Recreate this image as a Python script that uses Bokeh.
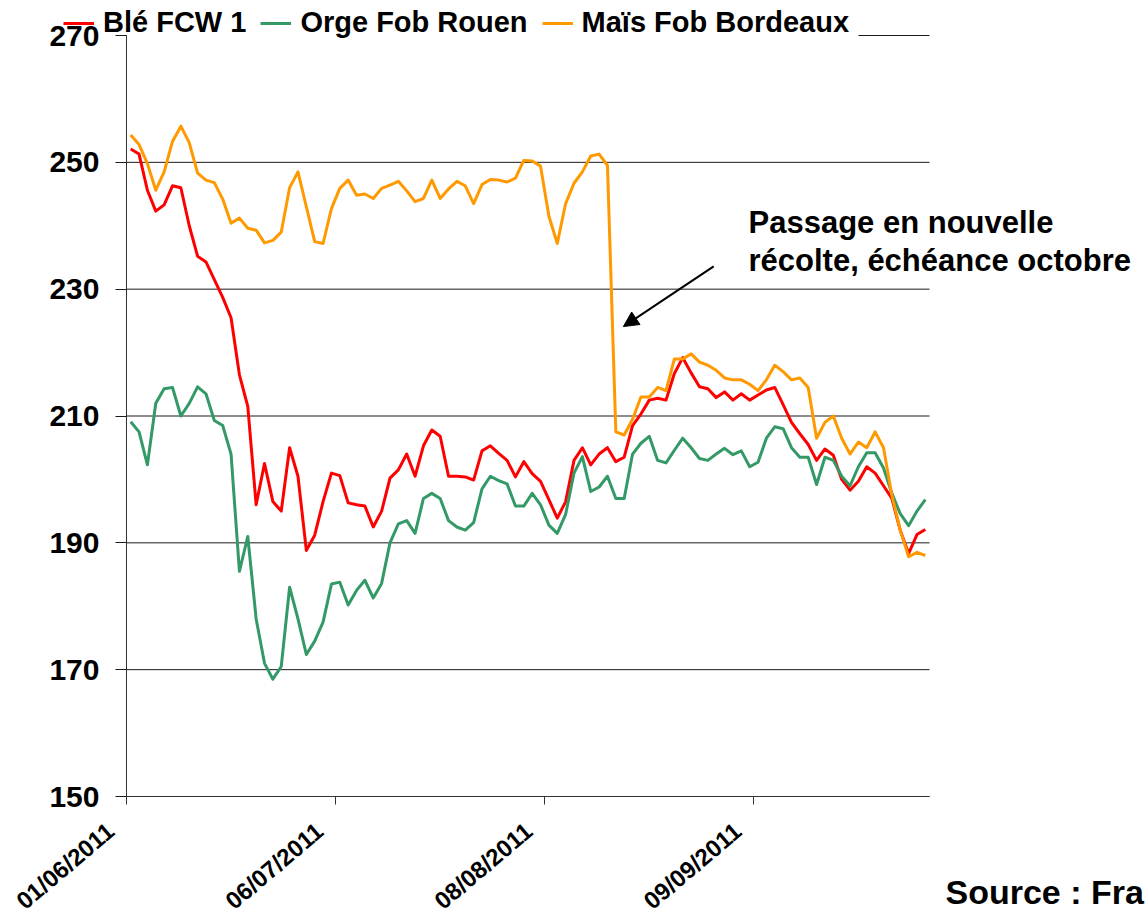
from bokeh.plotting import figure
from bokeh.models import (FixedTicker, Legend, LegendItem, Label, Arrow, NormalHead,
                          Range1d, ColumnDataSource, LinearAxis, BoxAnnotation)
from bokeh.embed import file_html
from bokeh.resources import INLINE

# ---- data ----
ble = [252.1, 251.3, 245.6, 242.3, 243.3, 246.3, 246.0, 240.0, 235.2, 234.3,
       231.5, 228.7, 225.5, 216.5, 211.5, 196.0, 202.5, 196.5, 195.0, 205.0,
       200.5, 188.8, 191.2, 196.5, 201.0, 200.6, 196.3, 196.0, 195.8, 192.5,
       195.0, 200.2, 201.5, 204.0, 200.5, 205.3, 207.8, 206.8, 200.5, 200.5,
       200.4, 199.9, 204.5, 205.3, 204.1, 203.0, 200.4, 202.8, 200.9, 199.7,
       196.8, 193.9, 196.5, 203.0, 205.0, 202.3, 204.0, 205.0, 202.8, 203.5,
       208.5, 210.3, 212.5, 212.8, 212.5, 216.7, 219.2, 216.8, 214.6, 214.3,
       212.9, 213.8, 212.5, 213.5, 212.5, 213.3, 214.1, 214.5, 211.8, 209.0,
       207.2, 205.5, 203.0, 204.8, 203.8, 200.0, 198.3, 199.7, 202.0, 201.0,
       199.0, 197.0, 192.0, 188.3, 191.3, 192.1]

orge = [209.1, 207.5, 202.3, 212.0, 214.3, 214.5, 210.0, 212.0, 214.6, 213.5,
        209.3, 208.5, 204.0, 185.5, 191.0, 178.0, 171.0, 168.5, 170.5, 183.0,
        178.0, 172.4, 174.5, 177.5, 183.5, 183.8, 180.2, 182.5, 184.1, 181.3,
        183.6, 190.0, 193.0, 193.5, 191.5, 197.0, 197.8, 197.0, 193.5, 192.5,
        192.0, 193.2, 198.5, 200.5, 199.8, 199.3, 195.8, 195.8, 197.8, 196.0,
        192.8, 191.5, 194.5, 201.0, 203.6, 198.1, 198.8, 200.5, 197.0, 197.0,
        204.0, 205.7, 206.8, 203.0, 202.6, 204.6, 206.5, 205.0, 203.3, 203.0,
        204.0, 204.9, 203.9, 204.5, 202.0, 202.7, 206.5, 208.3, 208.0, 205.0,
        203.5, 203.5, 199.2, 203.5, 203.0, 200.5, 199.0, 202.0, 204.2, 204.2,
        201.8, 197.8, 194.6, 192.7, 195.0, 196.8]

mais = [254.3, 252.8, 249.8, 245.6, 248.5, 253.3, 255.7, 253.1, 248.3, 247.2,
        246.8, 244.2, 240.4, 241.2, 239.6, 239.3, 237.3, 237.7, 239.0, 246.0,
        248.5, 243.0, 237.5, 237.2, 242.7, 245.9, 247.2, 244.8, 245.0, 244.3,
        245.9, 246.4, 247.0, 245.5, 243.8, 244.3, 247.2, 244.3, 245.8, 247.0,
        246.3, 243.5, 246.5, 247.3, 247.2, 246.9, 247.5, 250.3, 250.2, 249.4,
        241.5, 237.2, 243.5, 246.7, 248.5, 251.0, 251.3, 249.5, 207.5, 207.0,
        209.5, 213.0, 213.0, 214.5, 214.0, 219.0, 219.0, 219.8, 218.5, 218.0,
        217.2, 216.0, 215.7, 215.7, 215.0, 214.0, 215.7, 218.0, 217.0, 215.7,
        216.0, 214.5, 206.5, 209.0, 210.0, 206.5, 204.0, 205.9, 205.0, 207.5,
        205.0, 197.5, 192.0, 187.8, 188.5, 188.0]

series_names = ["Blé FCW 1", "Orge Fob Rouen", "Maïs Fob Bordeaux"]
series_colors = ["#FF0000", "#339966", "#FF9900"]

date_ticks = [0, 25, 50, 75]
date_labels = ["01/06/2011", "06/07/2011", "08/08/2011", "09/09/2011"]
y_ticks = [150, 170, 190, 210, 230, 250, 270]

FONT = "Liberation Sans"

# ---- layout (pixels) ----
W, H = 1147, 917
AX_L, AX_R, AX_T, AX_B = 126, 929, 35, 796
n = len(ble)
y_lo, y_hi = y_ticks[0], y_ticks[-1]
sx = (AX_R - AX_L) / n
sy = (AX_B - AX_T) / (y_hi - y_lo)
x_range = Range1d(-AX_L / sx, (W - AX_L) / sx)
y_range = Range1d(y_lo - (H - AX_B) / sy, y_hi + AX_T / sy)


def px_to_y(py):
    return y_hi - (py - AX_T) / sy


def px_to_x(px):
    return (px - AX_L) / sx


src = ColumnDataSource(dict(x=[i + 0.5 for i in range(n)], ble=ble, orge=orge, mais=mais))
grid_src = ColumnDataSource(dict(y=y_ticks, x0=[0] * len(y_ticks), x1=[n] * len(y_ticks)))

p = figure(width=W, height=H, x_range=x_range, y_range=y_range,
           output_backend="svg", toolbar_location=None, min_border=0)
p.outline_line_color = None
p.background_fill_color = "white"
p.border_fill_color = "white"
p.xgrid.visible = False
p.ygrid.visible = False

# horizontal grid lines spanning the plot area only
p.segment(x0="x0", x1="x1", y0="y", y1="y", source=grid_src,
          line_color="#1a1a1a", line_width=1, level="image")

# white band behind the legend (hides the top grid line there)
p.add_layout(BoxAnnotation(left=0.05, right=px_to_x(858), bottom=px_to_y(39),
                           top=y_range.end, fill_color="white", fill_alpha=1.0,
                           line_color=None, level="underlay"))

renderers = []
for col, name, colr in zip(["ble", "orge", "mais"], series_names, series_colors):
    r = p.line("x", col, source=src, line_color=colr, line_width=3, line_join="round")
    renderers.append(r)

# y axis
yax = p.yaxis[0]
yax.fixed_location = 0
yax.bounds = (y_lo, y_hi)
yax.ticker = FixedTicker(ticks=y_ticks)
yax.axis_line_color = "#333333"
yax.major_tick_line_color = "#1a1a1a"
yax.major_tick_out = 11
yax.major_tick_in = 0
yax.minor_tick_line_color = None
yax.major_label_standoff = 16
yax.major_label_text_font = FONT
yax.major_label_text_font_style = "bold"
yax.major_label_text_font_size = "30px"
yax.major_label_text_color = "black"

# x axis: line and tick marks
xax = p.xaxis[0]
xax.fixed_location = y_lo
xax.bounds = (0, n)
xax.ticker = FixedTicker(ticks=date_ticks)
xax.major_label_overrides = {t: "" for t in date_ticks}
xax.axis_line_color = "#333333"
xax.major_tick_line_color = "#333333"
xax.major_tick_out = 8
xax.major_tick_in = 0
xax.minor_tick_line_color = None

# x axis: rotated date labels (nudged left as in the original)
shift = round(16 / sx, 3)
lab_ticks = [round(t - shift, 3) for t in date_ticks]
xlab = LinearAxis(fixed_location=y_lo, bounds=(-shift - 1, n),
                  ticker=FixedTicker(ticks=lab_ticks),
                  major_label_overrides={t: l for t, l in zip(lab_ticks, date_labels)},
                  axis_line_color=None, major_tick_line_color=None,
                  minor_tick_line_color=None, major_tick_out=8, major_tick_in=0,
                  major_label_orientation=0.70, major_label_standoff=23,
                  major_label_text_font=FONT, major_label_text_font_style="bold",
                  major_label_text_font_size="24px", major_label_text_color="black")
p.add_layout(xlab, "below")

# legend
legend = Legend(items=[LegendItem(label=nm, renderers=[r]) for nm, r in zip(series_names, renderers)],
                orientation="horizontal", location=(63, H - 39),
                label_text_font=FONT, label_text_font_style="bold",
                label_text_font_size="29px", label_text_color="black",
                glyph_width=31, glyph_height=20, label_standoff=9, spacing=14,
                padding=5, margin=0, background_fill_alpha=0.0, border_line_color=None)
p.add_layout(legend, "center")

# annotation
p.add_layout(Arrow(end=NormalHead(size=15, fill_color="black", line_color="black"),
                   x_start=70.2, y_start=233.6, x_end=59.4, y_end=224.1,
                   line_color="black", line_width=2))
for txt, py in [("Passage en nouvelle", 222), ("récolte, échéance octobre", 260)]:
    p.add_layout(Label(x=px_to_x(748), y=px_to_y(py), text=txt, text_font=FONT,
                       text_font_style="bold", text_font_size="31px", text_color="black",
                       text_baseline="alphabetic", text_align="left"))
p.add_layout(Label(x=px_to_x(945), y=px_to_y(891), text="Source : Fra", text_font=FONT,
                   text_font_style="bold", text_font_size="34px", text_color="black",
                   text_baseline="alphabetic", text_align="left"))

open("out.html", "w").write(file_html(p, INLINE))
